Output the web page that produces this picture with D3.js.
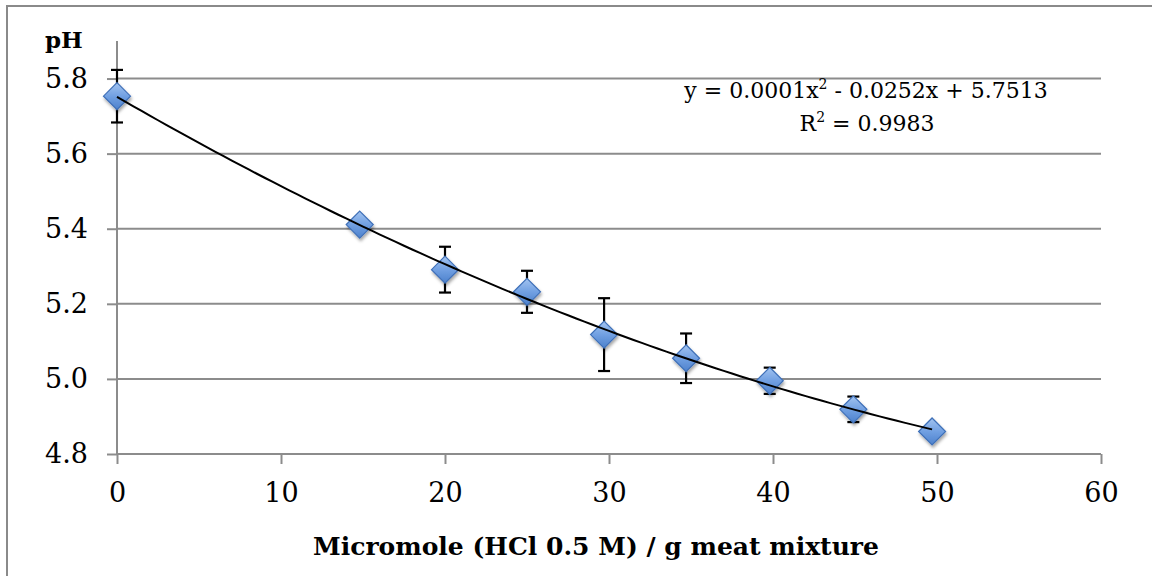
<!DOCTYPE html>
<html>
<head>
<meta charset="utf-8">
<script src="https://cdn.jsdelivr.net/npm/d3@7"></script>
<style>
  html, body { margin: 0; padding: 0; background: #fff; }
  svg { display: block; }
  text { font-family: "DejaVu Serif", "Liberation Serif", serif; fill: #000; }
</style>
</head>
<body>
<svg id="chart" width="1152" height="576"></svg>
<script>
// ---- data ----
const xValues   = [0, 14.8, 20.0, 25.0, 29.7, 34.7, 39.8, 44.9, 49.7];
const phValues  = [5.753, 5.411, 5.291, 5.232, 5.118, 5.055, 4.995, 4.919, 4.860];
const errValues = [0.070, 0.000, 0.061, 0.056, 0.097, 0.066, 0.035, 0.034, 0.000];
const xTicks = [0, 10, 20, 30, 40, 50, 60];
const yTicks = [4.8, 5.0, 5.2, 5.4, 5.6, 5.8];
const yAxisTitle = "pH";
const xAxisTitle = "Micromole (HCl 0.5 M) / g meat mixture";
const eqCoef = ["0.0001", "0.0252", "5.7513"];
const rSquared = "0.9983";

const svg = d3.select("#chart");
const FONT = '"DejaVu Serif", "Liberation Serif", serif';

// chart border (right and bottom edges lie outside the picture)
svg.append("path")
  .attr("d", "M7,580V6H1160")
  .attr("fill", "none").attr("stroke", "#8a8a8a").attr("stroke-width", 2);

const x = d3.scaleLinear().domain([0, 60]).range([117, 1101]);
const y = d3.scaleLinear().domain([4.8, 5.9]).range([454, 41]);

const defs = svg.append("defs");
const grad = defs.append("linearGradient").attr("id", "mk")
  .attr("x1", 0).attr("y1", 0).attr("x2", 0).attr("y2", 1);
grad.append("stop").attr("offset", "0%").attr("stop-color", "#a3c4f0");
grad.append("stop").attr("offset", "50%").attr("stop-color", "#71a0e2");
grad.append("stop").attr("offset", "100%").attr("stop-color", "#4d81cc");
const flt = defs.append("filter").attr("id", "sh")
  .attr("x", "-50%").attr("y", "-50%").attr("width", "200%").attr("height", "200%");
flt.append("feDropShadow").attr("dx", 1).attr("dy", 2.5).attr("stdDeviation", 1.8)
  .attr("flood-color", "#000").attr("flood-opacity", 0.35);

const gridColor = "#8c8c8c";

// horizontal gridlines (above 4.8)
svg.append("g").selectAll("line").data(yTicks.filter(d => d > 4.8)).join("line")
  .attr("x1", x(0)).attr("x2", x(60))
  .attr("y1", d => y(d)).attr("y2", d => y(d))
  .attr("stroke", gridColor).attr("stroke-width", 2);

// Y axis
const yAxis = d3.axisLeft(y).tickValues(yTicks).tickFormat(d3.format(".1f"))
  .tickSize(10).tickPadding(19);
const gy = svg.append("g").attr("transform", `translate(${x(0)},0)`).call(yAxis);
gy.attr("font-family", FONT);
gy.select(".domain").attr("stroke", gridColor).attr("stroke-width", 2)
  .attr("d", `M0,${y(5.9)}V${y(4.8)}`);
gy.selectAll(".tick line").attr("stroke", gridColor).attr("stroke-width", 2);
gy.selectAll(".tick text").attr("font-size", 27).attr("fill", "#000");

// X axis
const xAxis = d3.axisBottom(x).tickValues(xTicks).tickFormat(d3.format("d"))
  .tickSize(10).tickPadding(19);
const gx = svg.append("g").attr("transform", `translate(0,${y(4.8)})`).call(xAxis);
gx.attr("font-family", FONT);
gx.select(".domain").attr("stroke", gridColor).attr("stroke-width", 2)
  .attr("d", `M${x(0)},0H${x(60)}`);
gx.selectAll(".tick line").attr("stroke", gridColor).attr("stroke-width", 2);
gx.selectAll(".tick text").attr("font-size", 27).attr("fill", "#000");

// error bars
const pts = xValues.map((v, i) => ({ x: v, y: phValues[i], e: errValues[i] }));
const eb = svg.append("g").attr("stroke", "#000").attr("stroke-width", 2.2);
pts.filter(d => d.e > 0).forEach(d => {
  const cx = x(d.x), t = y(d.y + d.e), b = y(d.y - d.e);
  eb.append("line").attr("x1", cx).attr("x2", cx).attr("y1", t).attr("y2", b);
  eb.append("line").attr("x1", cx - 6).attr("x2", cx + 6).attr("y1", t).attr("y2", t);
  eb.append("line").attr("x1", cx - 6).attr("x2", cx + 6).attr("y1", b).attr("y2", b);
});

// markers
const r = 13.5;
svg.append("g").selectAll("path").data(pts).join("path")
  .attr("d", d => {
    const cx = x(d.x), cy = y(d.y);
    return `M${cx},${cy - r}L${cx + r},${cy}L${cx},${cy + r}L${cx - r},${cy}Z`;
  })
  .attr("fill", "url(#mk)").attr("stroke", "#3f70b8").attr("stroke-width", 1.2)
  .attr("filter", "url(#sh)");

// polynomial (order 2) least-squares trendline
function fitQuad(xs, ys) {
  const S = [[0,0,0],[0,0,0],[0,0,0]], T = [0,0,0];
  xs.forEach((xv, i) => {
    const p = [1, xv, xv * xv];
    for (let a = 0; a < 3; a++) {
      T[a] += p[a] * ys[i];
      for (let b = 0; b < 3; b++) S[a][b] += p[a] * p[b];
    }
  });
  const M = S.map((row, i) => [...row, T[i]]);
  for (let c = 0; c < 3; c++) {
    let piv = c;
    for (let rr = c + 1; rr < 3; rr++) if (Math.abs(M[rr][c]) > Math.abs(M[piv][c])) piv = rr;
    [M[c], M[piv]] = [M[piv], M[c]];
    for (let rr = 0; rr < 3; rr++) {
      if (rr === c) continue;
      const f = M[rr][c] / M[c][c];
      for (let k = c; k < 4; k++) M[rr][k] -= f * M[c][k];
    }
  }
  return [M[0][3] / M[0][0], M[1][3] / M[1][1], M[2][3] / M[2][2]];
}
const [c0, c1, c2] = fitQuad(xValues, phValues);
const xEnd = xValues[xValues.length - 1];
const xs = d3.range(0, xEnd, 0.5).concat([xEnd]);
svg.append("path")
  .datum(xs)
  .attr("fill", "none").attr("stroke", "#000").attr("stroke-width", 2)
  .attr("d", d3.line().x(d => x(d)).y(d => y(c0 + c1 * d + c2 * d * d)));

// equation text
const eq = svg.append("text").attr("x", 866).attr("y", 98)
  .attr("text-anchor", "middle").attr("font-size", 22);
eq.append("tspan").text(`y = ${eqCoef[0]}x`);
eq.append("tspan").attr("font-size", 14).attr("dy", -9).text("2");
eq.append("tspan").attr("dy", 9).text(` - ${eqCoef[1]}x + ${eqCoef[2]}`);

const r2 = svg.append("text").attr("x", 867).attr("y", 131)
  .attr("text-anchor", "middle").attr("font-size", 22);
r2.append("tspan").text("R");
r2.append("tspan").attr("font-size", 14).attr("dy", -9).text("2");
r2.append("tspan").attr("dy", 9).text(` = ${rSquared}`);

// axis titles
svg.append("text").attr("x", 45).attr("y", 48)
  .attr("font-size", 23).attr("font-weight", "bold").text(yAxisTitle);
svg.append("text").attr("x", 313).attr("y", 555)
  .attr("font-size", 25).attr("font-weight", "bold")
  .text(xAxisTitle);
</script>
</body>
</html>
